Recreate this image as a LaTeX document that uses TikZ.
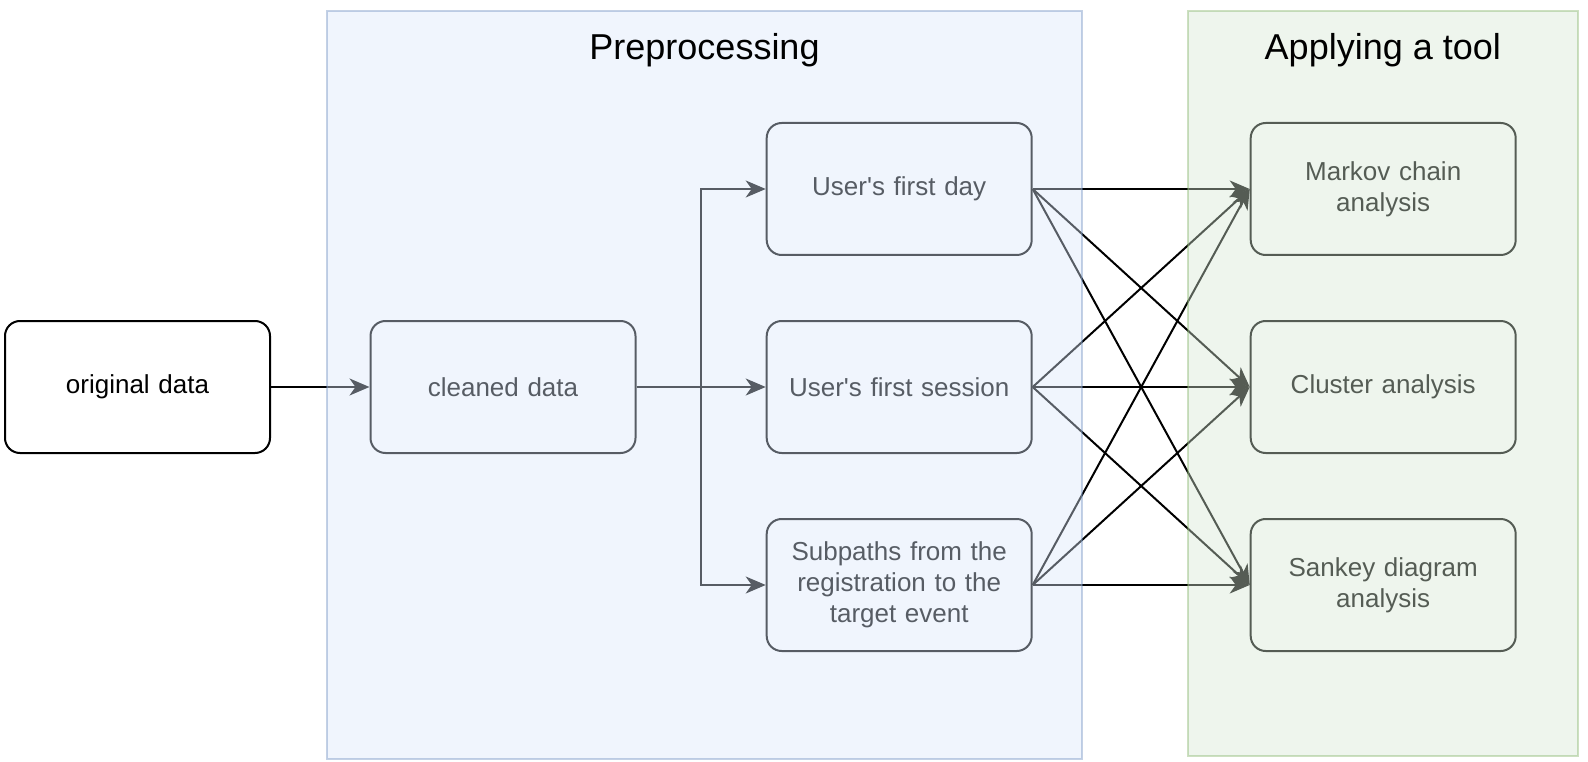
\documentclass[tikz,border=0pt]{standalone}
\usepackage{fontspec}
\setmainfont{Liberation Sans}[Ligatures=TeXOff]
\usetikzlibrary{arrows.meta}
\definecolor{blueF}{HTML}{DAE8FC}
\definecolor{blueD}{HTML}{6C8EBF}
\definecolor{greenF}{HTML}{D5E8D4}
\definecolor{greenD}{HTML}{82B366}
\begin{document}
\begin{tikzpicture}[x=1pt,y=-1pt,
  box/.style={draw=black, line width=2pt, rounded corners=15pt, fill=white,
    minimum width=265pt, minimum height=132pt, align=center, text width=255pt,
    inner sep=0pt, font=\fontsize{26}{31.2}\selectfont},
  edge/.style={draw=black, line width=2pt, -{Stealth[length=20pt,width=17pt,inset=6pt]}},
  contB/.style={fill=blueF, fill opacity=0.4, draw=blueD, draw opacity=0.4, line width=2pt},
  contG/.style={fill=greenF, fill opacity=0.4, draw=greenD, draw opacity=0.4, line width=2pt},
  titlestyle/.style={font=\fontsize{36}{43}\selectfont, anchor=base, inner sep=0pt}]
\useasboundingbox (0,0) rectangle (1588,762);
\fill[white] (0,0) rectangle (1588,762);
% nodes
\node[box] (orig) at (137.5,387) {original data};
\node[box] (clean) at (503,387) {cleaned data};
\node[box] (first) at (899.2,189) {User's first day};
\node[box] (second) at (899.2,387) {User's first session};
\node[box] (third) at (899.2,585) {Subpaths from the\\registration to the\\target event};
\node[box] (markov) at (1383.2,189) {Markov chain\\analysis};
\node[box] (cluster) at (1383.2,387) {Cluster analysis};
\node[box] (sankey) at (1383.2,585) {Sankey diagram\\analysis};
% connectors
\coordinate (br) at (700.7,387);
\draw[edge] (orig) -- (clean);
\draw[edge] (clean.east) -- (br) |- (first.west);
\draw[edge] (clean.east) -- (second.west);
\draw[edge] (br) |- (third.west);
\foreach \s in {first,second,third}
  \foreach \t in {markov,cluster,sankey}
    \draw[edge] (\s.east) -- (\t.west);
% containers on top
\draw[contB] (327.3,10.7) rectangle (1081.7,759.3);
\draw[contG] (1187.7,10.7) rectangle (1578,756);
\node[titlestyle] (pretitle) at (704.5,60) {Preprocessing};
\node[titlestyle] (apptitle) at (1382.8,60) {Applying a tool};
\end{tikzpicture}
\end{document}
